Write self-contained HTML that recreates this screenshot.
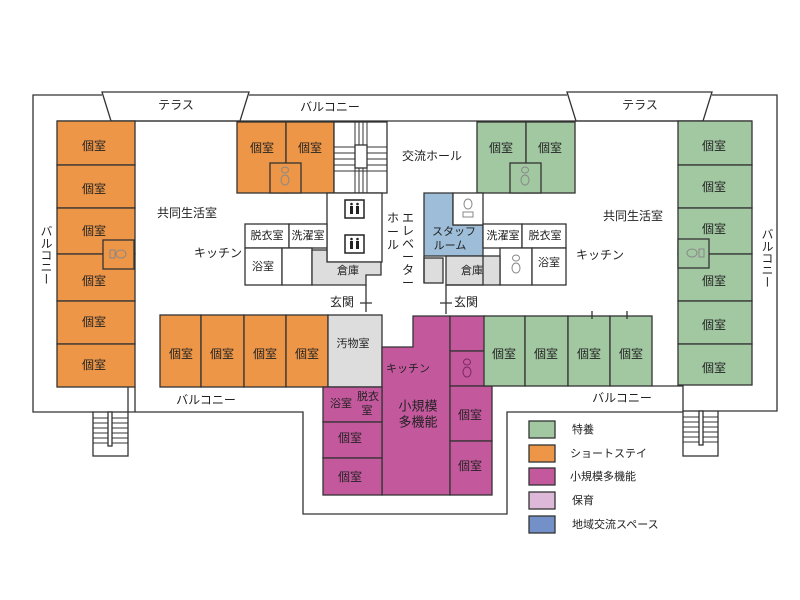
<!DOCTYPE html>
<html><head><meta charset="utf-8"><style>
html,body{margin:0;padding:0;background:#fff}
svg{display:block}
text{font-family:"Liberation Sans","Noto Sans CJK JP",sans-serif;font-size:12px;fill:#222;text-anchor:middle;dominant-baseline:central}
.s{font-size:11px}
.o{fill:#ED9647;stroke:#333;stroke-width:1.3}
.g{fill:#A2C8A2;stroke:#333;stroke-width:1.3}
.m{fill:#C4589D;stroke:#333;stroke-width:1.3}
.w{fill:#fff;stroke:#333;stroke-width:1.3}
.gr{fill:#DDD;stroke:#333;stroke-width:1.3}
.b{fill:#9DBDD8;stroke:#333;stroke-width:1.3}
.l{fill:none;stroke:#333;stroke-width:1.3}
.t{fill:none;stroke:#888;stroke-width:1}
</style></head><body>
<svg width="800" height="600" viewBox="0 0 800 600">
<path class="l" d="M102,95 H33 V412 H93 M128,412 H303 V514 H507 V412 H683 M718,411 H777 V95 H712 M249,95 H567"/>
<path class="l" d="M135,387 V412 M128,387 V412 M652,386 H683 V411"/>
<path class="w" d="M102,92 H249 L240,121 H111 Z"/>
<path class="w" d="M567,92 H712 L703,121 H576 Z"/>
<text x="176" y="105">テラス</text><text x="640" y="105">テラス</text>
<text x="330" y="107">バルコニー</text>
<path class="l" d="M57,121 H752"/>
<rect class="o" x="57" y="121" width="78" height="44"/><rect class="o" x="57" y="165" width="78" height="43"/>
<rect class="o" x="57" y="208" width="78" height="46"/><rect class="o" x="57" y="254" width="78" height="47"/>
<rect class="o" x="57" y="301" width="78" height="43"/><rect class="o" x="57" y="344" width="78" height="43"/>
<rect class="o" x="103" y="240" width="31" height="29"/>
<text x="94" y="146">個室</text><text x="94" y="189">個室</text><text x="94" y="231">個室</text>
<text x="94" y="281">個室</text><text x="94" y="322">個室</text><text x="94" y="365">個室</text>
<text x="46" y="255" style="writing-mode:vertical-rl">バルコニー</text>
<rect class="g" x="678" y="121" width="74" height="44"/><rect class="g" x="678" y="165" width="74" height="43"/>
<rect class="g" x="678" y="208" width="74" height="46"/><rect class="g" x="678" y="254" width="74" height="47"/>
<rect class="g" x="678" y="301" width="74" height="43"/><rect class="g" x="678" y="344" width="74" height="41"/>
<rect class="g" x="678" y="239" width="31" height="29"/>
<text x="714" y="146">個室</text><text x="714" y="187">個室</text><text x="714" y="229">個室</text>
<text x="714" y="281">個室</text><text x="714" y="325">個室</text><text x="714" y="368">個室</text>
<text x="767" y="258" style="writing-mode:vertical-rl">バルコニー</text>
<g class="t"><rect x="110" y="250" width="5" height="8"/><ellipse cx="121" cy="254" rx="5" ry="4"/>
<rect x="699" y="249" width="5" height="8"/><ellipse cx="692" cy="253" rx="5" ry="4"/></g>
<rect class="o" x="237" y="122" width="49" height="71"/><rect class="o" x="286" y="122" width="48" height="71"/>
<rect class="o" x="270" y="163" width="31" height="30"/>
<text x="262" y="148">個室</text><text x="310" y="148">個室</text>
<g class="t"><ellipse cx="285" cy="170" rx="3.5" ry="3"/><ellipse cx="285" cy="180" rx="4" ry="5"/></g>
<rect class="w" x="334" y="122" width="53" height="71"/>
<g class="l" style="stroke-width:1"><path d="M355,122 V193 M359,122 V193 M363,122 V193 M367,122 V193"/>
<path d="M334,147 H387 M334,153 H387 M334,159 H387 M334,165 H387 M334,171 H387"/></g>
<rect class="w" x="355" y="145" width="12" height="23"/>
<text x="432" y="156">交流ホール</text>
<rect class="g" x="477" y="122" width="49" height="71"/><rect class="g" x="526" y="122" width="49" height="71"/>
<rect class="g" x="510" y="163" width="31" height="30"/>
<text x="501" y="148">個室</text><text x="550" y="148">個室</text>
<g class="t"><ellipse cx="525" cy="170" rx="3.5" ry="3"/><ellipse cx="525" cy="180" rx="4" ry="5"/></g>
<text x="187" y="213">共同生活室</text><text x="633" y="216">共同生活室</text>
<rect class="w" x="327" y="193" width="55" height="69"/>
<g><rect x="345" y="200" width="19" height="18" fill="#fff" stroke="#222" stroke-width="1.5"/><rect x="350" y="206" width="3" height="8" fill="#222"/><rect x="356" y="206" width="3" height="8" fill="#222"/><circle cx="351.5" cy="204" r="1.3" fill="#222"/><circle cx="357.5" cy="204" r="1.3" fill="#222"/>
<rect x="345" y="235" width="19" height="18" fill="#fff" stroke="#222" stroke-width="1.5"/><rect x="350" y="241" width="3" height="8" fill="#222"/><rect x="356" y="241" width="3" height="8" fill="#222"/><circle cx="351.5" cy="239" r="1.3" fill="#222"/><circle cx="357.5" cy="239" r="1.3" fill="#222"/></g>
<rect class="w" x="245" y="224" width="44" height="24"/><rect class="w" x="289" y="224" width="38" height="24"/>
<rect class="w" x="245" y="248" width="37" height="37"/><rect class="w" x="282" y="248" width="30" height="37"/>
<path class="gr" d="M312,250 H327 V262 H381 V275 H366 V285 H312 Z"/>
<text class="s" x="267" y="236">脱衣室</text><text class="s" x="308" y="236">洗濯室</text>
<text class="s" x="263" y="267">浴室</text><text class="s" x="348" y="271">倉庫</text>
<text x="218" y="253">キッチン</text>
<path class="l" d="M366,285 V312 M360,303 H372"/>
<text x="342" y="302">玄関</text>
<!-- vertical labels -->
<text x="393" y="218">ホ</text><text x="393" y="232">ー</text><text x="393" y="245">ル</text>
<text x="408" y="218">エ</text><text x="408" y="231">レ</text><text x="408" y="244">ベ</text><text x="408" y="257">ー</text><text x="408" y="270">タ</text><text x="408" y="283">ー</text>
<path class="b" d="M424,193 H453 V225 H483 V256 H424 Z"/>
<rect class="w" x="453" y="193" width="30" height="32"/>
<g class="t"><ellipse cx="468" cy="204" rx="4" ry="5"/><rect x="463" y="212" width="10" height="5"/></g>
<text class="s" x="454" y="232">スタッフ</text><text class="s" x="450" y="246">ルーム</text>
<rect class="w" x="483" y="224" width="39" height="24"/><rect class="w" x="522" y="224" width="44" height="24"/>
<rect class="w" x="500" y="248" width="32" height="37"/><rect class="w" x="532" y="248" width="34" height="37"/>
<g class="t"><ellipse cx="516" cy="258" rx="3.5" ry="3"/><ellipse cx="516" cy="268" rx="4" ry="5"/></g>
<text class="s" x="503" y="236">洗濯室</text><text class="s" x="545" y="236">脱衣室</text>
<text class="s" x="549" y="263">浴室</text>
<rect class="gr" x="446" y="256" width="54" height="29"/><rect class="gr" x="424" y="258" width="19" height="25"/>
<path class="l" d="M483,256 V285 H446 M424,256 V283"/>
<text class="s" x="472" y="271">倉庫</text>
<text x="600" y="255">キッチン</text>
<path class="l" d="M446,285 V314 M440,303 H452"/>
<text x="466" y="302">玄関</text>
<rect class="o" x="160" y="315" width="41" height="72"/><rect class="o" x="201" y="315" width="43" height="72"/>
<rect class="o" x="244" y="315" width="42" height="72"/><rect class="o" x="286" y="315" width="42" height="72"/>
<text x="181" y="354">個室</text><text x="222" y="354">個室</text><text x="265" y="354">個室</text><text x="307" y="354">個室</text>
<rect class="gr" x="328" y="315" width="54" height="72"/>
<text class="s" x="353" y="344">汚物室</text>
<text x="206" y="400">バルコニー</text>
<path class="m" d="M382,347 H413 V316 H450 V495 H382 Z"/>
<rect class="m" x="323" y="387" width="59" height="35"/><rect class="m" x="323" y="422" width="59" height="36"/><rect class="m" x="323" y="458" width="59" height="37"/>
<rect class="m" x="450" y="316" width="35" height="35"/><rect class="m" x="450" y="351" width="35" height="35"/>
<rect class="m" x="450" y="386" width="42" height="55"/><rect class="m" x="450" y="441" width="42" height="54"/>
<g style="fill:none;stroke:#7a2a60;stroke-width:1"><ellipse cx="467" cy="362" rx="3.5" ry="3"/><ellipse cx="467" cy="372" rx="4" ry="5"/></g>
<text class="s" x="408" y="369">キッチン</text>
<text x="418" y="406" style="font-size:13px">小規模</text><text x="418" y="422" style="font-size:13px">多機能</text>
<text class="s" x="341" y="404">浴室</text><text class="s" x="368" y="397">脱衣</text><text class="s" x="367" y="411">室</text>
<text x="350" y="438">個室</text><text x="350" y="477">個室</text>
<text x="470" y="415">個室</text><text x="470" y="466">個室</text>
<rect class="g" x="484" y="316" width="41" height="70"/><rect class="g" x="525" y="316" width="43" height="70"/>
<rect class="g" x="568" y="316" width="42" height="70"/><rect class="g" x="610" y="316" width="42" height="70"/>
<path class="l" d="M592,311 V319 M627,311 V319"/>
<text x="504" y="354">個室</text><text x="546" y="354">個室</text><text x="589" y="354">個室</text><text x="631" y="354">個室</text>
<text x="622" y="398">バルコニー</text>
<rect class="w" x="93" y="412" width="35" height="44"/>
<g class="l" style="stroke-width:1"><path d="M93,418 H128 M93,423 H128 M93,428 H128 M93,433 H128 M93,438 H128 M93,443 H128"/></g>
<rect class="w" x="108" y="412" width="4" height="34"/>
<rect class="w" x="683" y="411" width="35" height="45"/>
<g class="l" style="stroke-width:1"><path d="M683,417 H718 M683,422 H718 M683,427 H718 M683,432 H718 M683,437 H718 M683,442 H718"/></g>
<rect class="w" x="699" y="411" width="4" height="34"/>
<rect x="529" y="421" width="26" height="17" fill="#A2C8A2" stroke="#333" stroke-width="1.3"/>
<rect x="529" y="445" width="26" height="17" fill="#ED9647" stroke="#333" stroke-width="1.3"/>
<rect x="529" y="468" width="26" height="17" fill="#C4589D" stroke="#333" stroke-width="1.3"/>
<rect x="529" y="492" width="26" height="17" fill="#DDB8D8" stroke="#333" stroke-width="1.3"/>
<rect x="529" y="516" width="26" height="17" fill="#7490C8" stroke="#333" stroke-width="1.3"/>
<text class="s" x="572" y="430" style="text-anchor:start">特養</text>
<text class="s" x="570" y="454" style="text-anchor:start">ショートステイ</text>
<text class="s" x="570" y="477" style="text-anchor:start">小規模多機能</text>
<text class="s" x="572" y="501" style="text-anchor:start">保育</text>
<text class="s" x="572" y="525" style="text-anchor:start">地域交流スペース</text>
</svg>
</body></html>
